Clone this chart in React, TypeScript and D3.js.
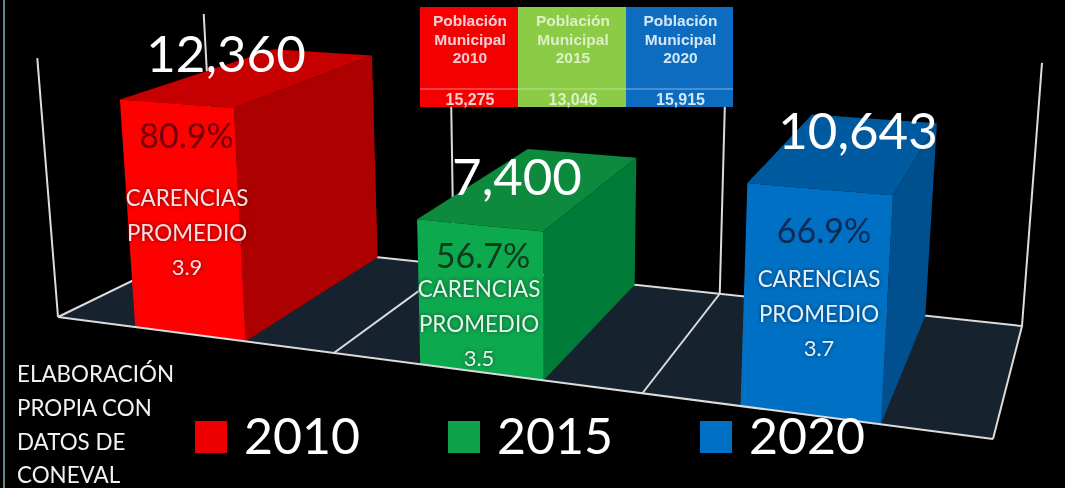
import React, { useEffect, useRef } from 'react';
import * as d3 from 'd3';

// data
const years = ['2010', '2015', '2020'];
const personas = [12360, 7400, 10643];
const porcentajes = ['80.9%', '56.7%', '66.9%'];
const carencias = ['3.9', '3.5', '3.7'];
const poblacion = ['15,275', '13,046', '15,915'];
const nota = ['ELABORACIÓN', 'PROPIA CON', 'DATOS DE', 'CONEVAL'];

// colours per year
const frontColor = ['#fe0000', '#0ea94f', '#0570c4'];
const sideColor = ['#ad0000', '#067b37', '#044f8e'];
const topColor = ['#c60000', '#078a3e', '#055a9f'];
const legendColor = ['#ee0000', '#0ba24a', '#0570c4'];
const tableColor = ['#f50505', '#8ccb45', '#0a6cc0'];
const tableText = ['#f6cdd2', '#dcefc6', '#d4e7f6'];
const labelText = ['#f7e0e0', '#e4f6ea', '#e2f1fb'];
const glowColor = ['#7a0000', '#04512a', '#03365f'];
const pctColor = ['#6e0408', '#0a3a1e', '#0a2a55'];

const WIDTH = 1065;
const HEIGHT = 488;
const WALL = 14300;

// floor of the 3d plot: u runs along the categories, v goes front to back
const frontX = d3.scaleLinear().domain([0, 1]).range([58, 993]);
const frontY = d3.scaleLinear().domain([0, 1]).range([317, 439]);
const backX = d3.scaleLinear().domain([0, 1]).range([216, 1022]);
const backY = d3.scaleLinear().domain([0, 1]).range([240, 326]);
// pixels per person, shrinks towards the back
const frontK = d3.scaleLinear().domain([0, 1]).range([0.0181, 0.022]);
const backK = d3.scaleLinear().domain([0, 1]).range([0.0158, 0.0184]);
// verticals lean outwards
const lean = d3.scaleLinear().domain([58, 1022]).range([-0.08, 0.076]);
// category cells are not even because of the perspective
const cell = d3.scaleLinear().domain([0, 1, 2, 3]).range([0, 0.295, 0.625, 1]);

const project = (u: number, v: number, value = 0): [number, number] => {
  const x = d3.interpolateNumber(frontX(u), backX(u))(v);
  const y = d3.interpolateNumber(frontY(u), backY(u))(v);
  const h = d3.interpolateNumber(frontK(u), backK(u))(v) * value;
  return [x + lean(x) * h, y - h];
};

const poly = d3.line();

// label placement
const valueX = [226, 517, 858];
const valueY = [72, 195, 149];
const pctX = [186.5, 483, 824];
const pctY = [148, 268, 243];
const carX = [187, 479, 819];
const carY = [206, 297, 287];
const legendX = [195, 448, 700];
const notaY = [382, 416, 450, 483];
const colEdge = d3.scaleLinear().domain([0, 1, 2, 3]).range([420, 518, 626, 733]);

export default function App() {
  const ref = useRef<SVGSVGElement>(null);

  useEffect(() => {
    const root = d3.select(ref.current);
    root.selectAll('*').remove();

    // the reference is a soft jpeg
    root.append('defs').append('filter').attr('id', 'soft')
      .attr('x', 0).attr('y', 0).attr('width', 1).attr('height', 1)
      .append('feGaussianBlur').attr('stdDeviation', 0.45);

    const svg = root.append('g').attr('filter', 'url(#soft)');

    svg.append('rect').attr('width', WIDTH).attr('height', HEIGHT).attr('fill', '#000');
    svg.append('line').attr('x1', 4).attr('x2', 4).attr('y1', 0).attr('y2', HEIGHT)
      .attr('stroke', '#7fb4bf').attr('stroke-width', 1.5);

    const lineStyle = (s: any) => s.attr('fill', 'none').attr('stroke', '#dcdcdc').attr('stroke-width', 2);

    // floor
    svg.append('path')
      .attr('d', poly([project(0, 0), project(1, 0), project(1, 1), project(0, 1)]) + 'Z')
      .attr('fill', '#19222e');
    svg.append('path')
      .attr('d', poly([project(0, 0), project(0, 1), project(1, 1), project(1, 0)]))
      .call(lineStyle);
    [1, 2].forEach((i) => {
      svg.append('path').attr('d', poly([project(cell(i), 0), project(cell(i), 1)])).call(lineStyle);
    });

    // walls
    svg.append('path').attr('d', poly([project(0, 0), project(0, 0, WALL)])).call(lineStyle);
    [0, 1, 2, 3].forEach((i) => {
      svg.append('path').attr('d', poly([project(cell(i), 1), project(cell(i), 1, WALL)])).call(lineStyle);
    });

    // bars
    personas.forEach((value, i) => {
      const w = cell(i + 1) - cell(i);
      const u0 = cell(i) + w * 0.28;
      const u1 = cell(i) + w * 0.68;
      const g = svg.append('g');
      g.append('path')
        .attr('d', poly([project(u1, 0), project(u1, 1), project(u1, 1, value), project(u1, 0, value)]) + 'Z')
        .attr('fill', sideColor[i]);
      g.append('path')
        .attr('d', poly([project(u0, 0, value), project(u1, 0, value), project(u1, 1, value), project(u0, 1, value)]) + 'Z')
        .attr('fill', topColor[i]);
      g.append('path')
        .attr('d', poly([project(u0, 0), project(u1, 0), project(u1, 0, value), project(u0, 0, value)]) + 'Z')
        .attr('fill', frontColor[i]);
    });

    // front edge sits over the bars
    svg.append('path').attr('d', poly([project(0, 0), project(1, 0)])).call(lineStyle);

    const font = 'Lato, sans-serif';
    const label = (x: number, y: number, text: string, size: number, fill: string, anchor = 'middle') =>
      svg.append('text')
        .attr('x', x).attr('y', y)
        .attr('text-anchor', anchor)
        .attr('font-family', font)
        .attr('font-size', size)
        .attr('fill', fill)
        .text(text);

    personas.forEach((value, i) => {
      const glow = `drop-shadow(0 0 2px ${glowColor[i]})`;
      label(valueX[i], valueY[i], d3.format(',')(value), 51, '#fff');
      label(pctX[i], pctY[i], porcentajes[i], 34, pctColor[i]);
      label(carX[i], carY[i], 'CARENCIAS', 22.4, labelText[i]).style('filter', glow);
      label(carX[i], carY[i] + 34.5, 'PROMEDIO', 22.4, labelText[i]).style('filter', glow);
      label(carX[i], carY[i] + 68.5, carencias[i], 22, labelText[i]).style('filter', glow);
    });

    // legend
    years.forEach((year, i) => {
      svg.append('rect')
        .attr('x', legendX[i]).attr('y', 421)
        .attr('width', 32).attr('height', 32)
        .attr('fill', legendColor[i]);
      label(legendX[i] + 49, 454, year, 50, '#fff', 'start');
    });

    nota.forEach((t, i) => {
      label(17, notaY[i], t, 22.4, '#f2f2f2', 'start');
    });

    // population table
    years.forEach((year, i) => {
      const x0 = colEdge(i);
      const x1 = colEdge(i + 1);
      const cx = (x0 + x1) / 2 + 1;
      svg.append('rect').attr('x', x0).attr('y', 7).attr('width', x1 - x0).attr('height', 100).attr('fill', tableColor[i]);
      svg.append('line').attr('x1', x0).attr('x2', x1).attr('y1', 89).attr('y2', 89)
        .attr('stroke', tableText[i]).attr('stroke-opacity', 0.6);
      ['Población', 'Municipal', year].forEach((t, j) => {
        label(cx, 26 + j * 18.5, t, 15.5, tableText[i]).attr('font-family', '"Liberation Sans", sans-serif').attr('font-weight', 'bold');
      });
      label(cx, 105, poblacion[i], 16, tableText[i]).attr('font-family', '"Liberation Sans", sans-serif').attr('font-weight', 'bold');
    });
  }, []);

  return (
    <svg
      ref={ref}
      width={WIDTH}
      height={HEIGHT}
      style={{ position: 'absolute', left: 0, top: 0, display: 'block' }}
    />
  );
}
